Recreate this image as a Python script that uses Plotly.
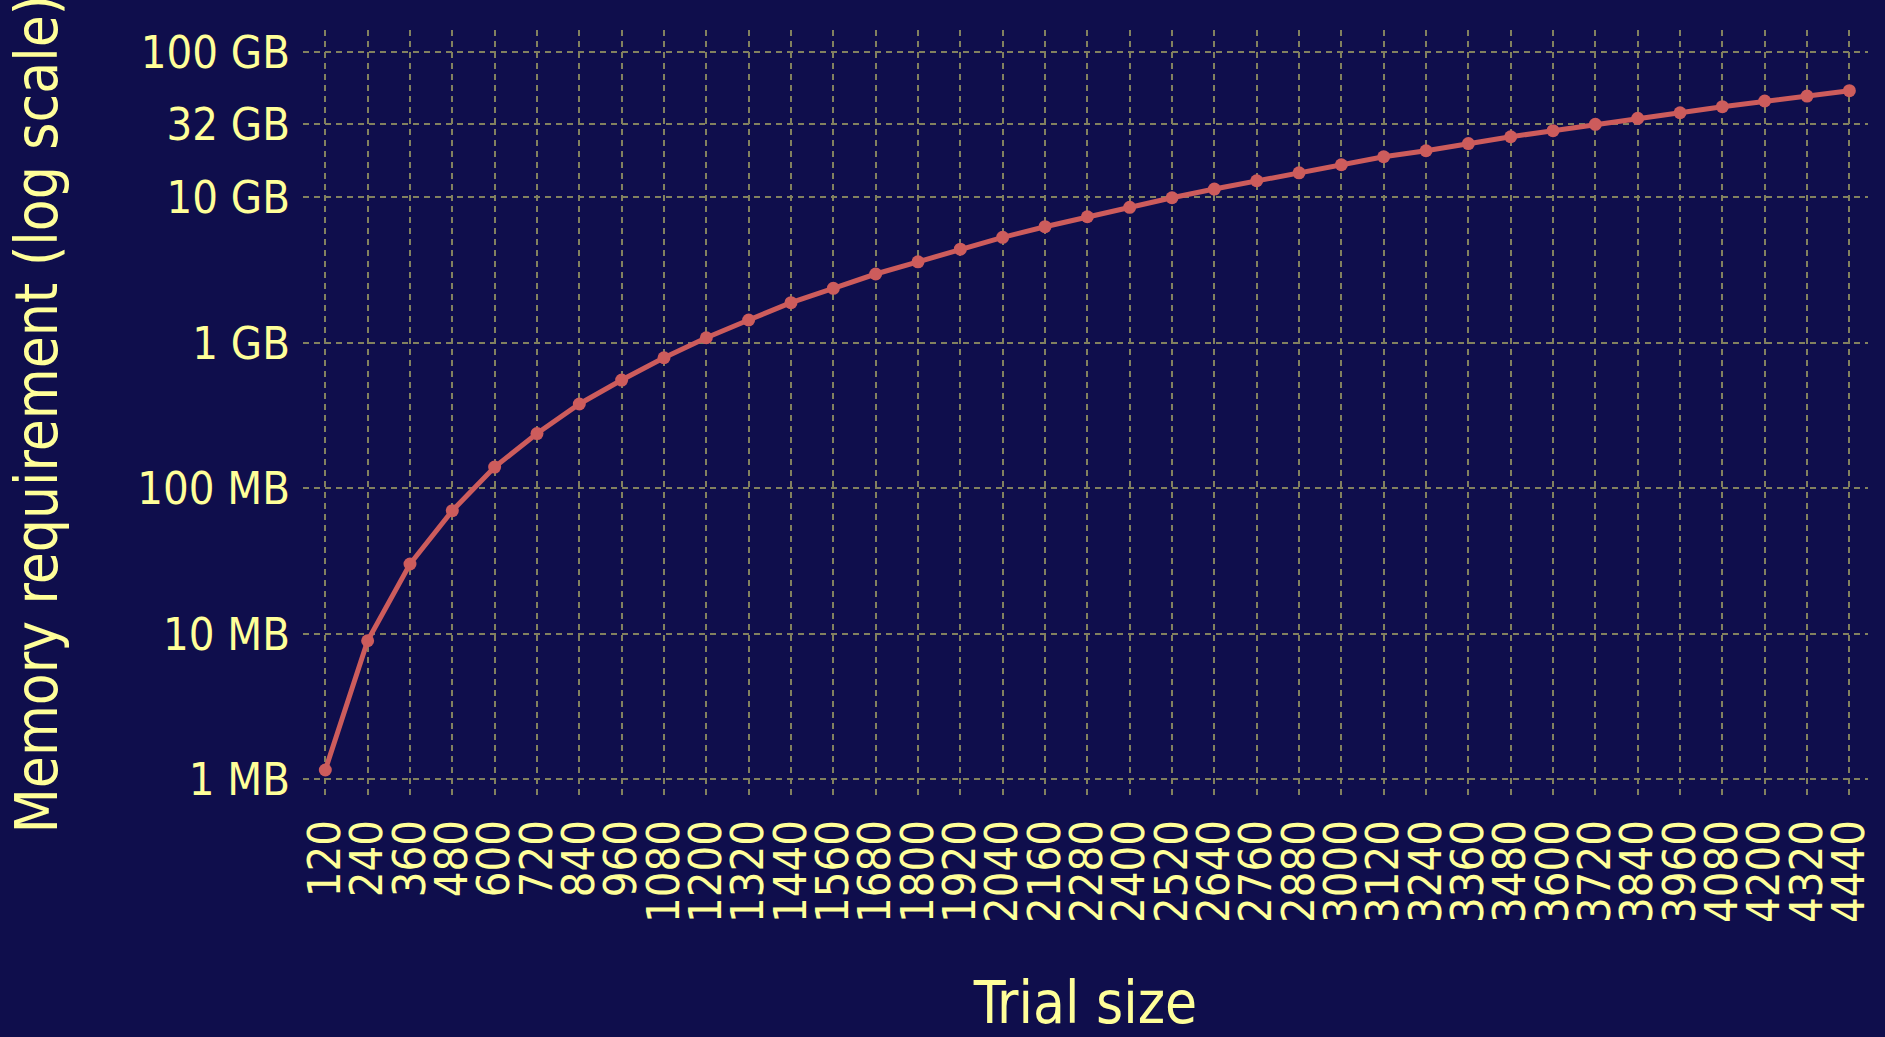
import plotly.graph_objects as go

trial_sizes = [120, 240, 360, 480, 600, 720, 840, 960, 1080, 1200, 1320, 1440, 1560, 1680,
               1800, 1920, 2040, 2160, 2280, 2400, 2520, 2640, 2760, 2880, 3000, 3120, 3240,
               3360, 3480, 3600, 3720, 3840, 3960, 4080, 4200, 4320, 4440]
memory_mb = [1.16, 8.97, 30.2, 70.2, 140, 238, 380, 555, 790, 1084, 1435, 1888, 2371, 2972,
             3607, 4400, 5309, 6281, 7356, 8535, 9935, 11400, 13000, 14750, 16750, 19000, 20900,
             23400, 26080, 28700, 31760, 34940, 38130, 41970, 45920, 49680, 54050]
y_tick_vals = [1, 10, 100, 1000, 10000, 32000, 100000]
y_tick_text = ["1 MB", "10 MB", "100 MB", "1 GB", "10 GB", "32 GB", "100 GB"]

x_labels = [str(v) for v in trial_sizes]

BG = "#0F0E4C"
TXT = "#FFFF99"
GRID = "#82815F"
FONT = "DejaVu Sans Condensed, Verdana, DejaVu Sans, sans-serif"

fig = go.Figure()
fig.add_trace(go.Scatter(
    x=x_labels, y=memory_mb, mode="lines+markers",
    line=dict(color="#CD5C5C", width=5),
    marker=dict(color="#CD5C5C", size=13),
    showlegend=False,
))

fig.update_layout(
    width=1885, height=1037,
    paper_bgcolor=BG, plot_bgcolor=BG,
    font=dict(family=FONT, color=TXT, size=45),
    margin=dict(l=303, r=17, t=30, b=239, autoexpand=False),
    xaxis=dict(
        type="category",
        range=[-0.527, 36.44],
        tickmode="array", tickvals=x_labels, ticktext=x_labels,
        tickangle=-90,
        tickfont=dict(size=45, color=TXT),
        showgrid=True, gridcolor=GRID, gridwidth=2.2, griddash="6px,5px",
        zeroline=False, showline=False,
        ticks="", ticklabelstandoff=12,
        title=dict(text="Trial size", font=dict(size=58, color=TXT), standoff=68),
        automargin=False,
    ),
    yaxis=dict(
        type="log",
        range=[-0.128, 5.15],
        tickvals=y_tick_vals, ticktext=y_tick_text,
        tickfont=dict(size=45, color=TXT),
        showgrid=True, gridcolor=GRID, gridwidth=2.2, griddash="6px,5px",
        zeroline=False, showline=False,
        ticks="", ticklabelstandoff=12,
        title=dict(text="Memory requirement (log scale)", font=dict(size=58, color=TXT), standoff=60),
        automargin=False,
    ),
)

fig.write_html("out.html", config={"displayModeBar": False},
               post_script="document.body.style.margin='0px';document.body.style.overflow='hidden';")
